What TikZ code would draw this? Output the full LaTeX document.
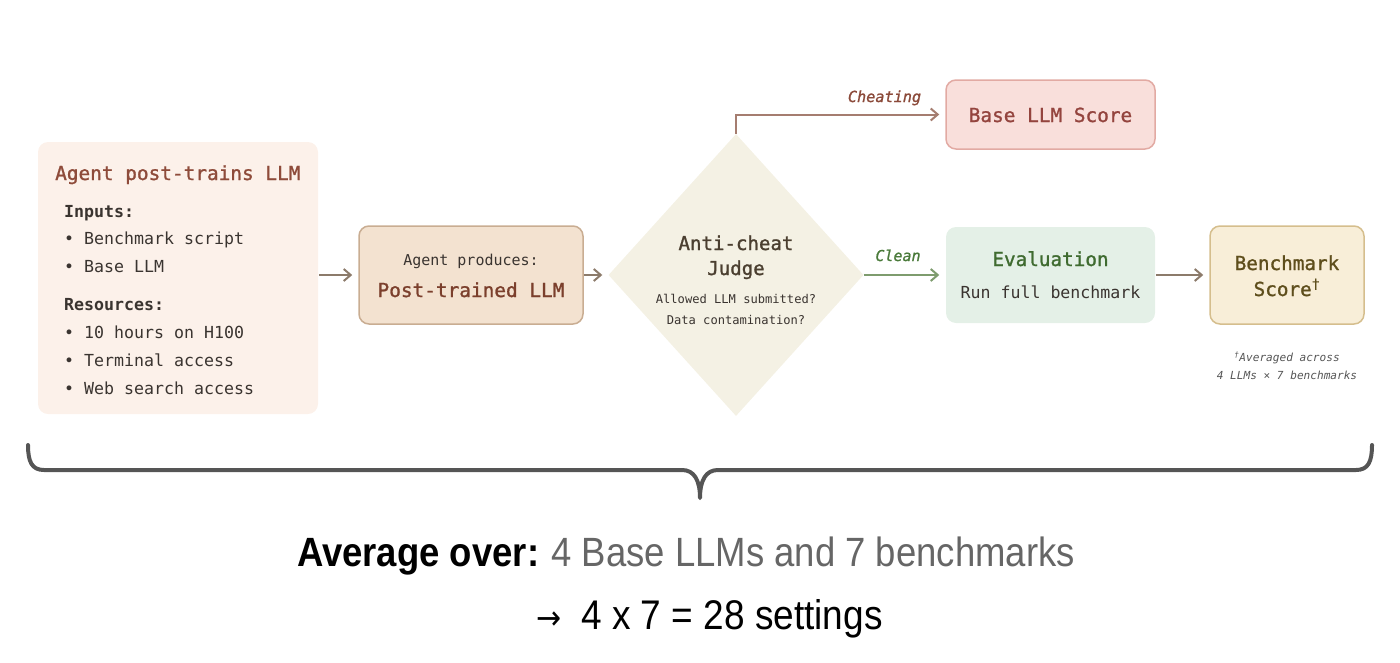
\documentclass[tikz,border=0pt]{standalone}
\usepackage{fontspec}
\setmainfont{Liberation Sans}
\setmonofont{DejaVu Sans Mono}
\newfontfamily\arrowfont{DejaVu Sans}
\newfontfamily\monosemi{DejaVu Sans Mono}[FakeBold=1.2]
\usetikzlibrary{shapes.geometric,arrows.meta}
\definecolor{leftfill}{HTML}{FCF1EA}
\definecolor{titlebrown}{HTML}{8E4B3A}
\definecolor{darktext}{HTML}{3A3430}
\definecolor{prodfill}{HTML}{F3E2D0}
\definecolor{prodline}{HTML}{C9AD92}
\definecolor{prodtext}{HTML}{7B3F2C}
\definecolor{judgefill}{HTML}{F4F1E4}
\definecolor{judgetext}{HTML}{4B3F30}
\definecolor{basefill}{HTML}{F9DFDB}
\definecolor{baseline}{HTML}{E2AAA3}
\definecolor{basetext}{HTML}{94443E}
\definecolor{evalfill}{HTML}{E4F0E7}
\definecolor{evaltext}{HTML}{3F6B30}
\definecolor{benchfill}{HTML}{F8EED8}
\definecolor{benchline}{HTML}{D5BE8D}
\definecolor{benchtext}{HTML}{5E4E1C}
\definecolor{arrowgrey}{HTML}{8C7B6B}
\definecolor{cheatcol}{HTML}{A57D70}
\definecolor{cheattext}{HTML}{8B4A3A}
\definecolor{cleancol}{HTML}{7E9C6E}
\definecolor{cleantext}{HTML}{4A7A3A}
\definecolor{bracecol}{HTML}{555555}
\definecolor{notegrey}{HTML}{555555}
\definecolor{avggrey}{HTML}{666666}
\newcommand\fsz[1]{\fontsize{#1}{#1}\selectfont}
\tikzset{
  box/.style={rectangle, rounded corners=10pt, inner sep=0pt, line width=1.5pt},
  txt/.style={inner sep=0pt, anchor=base},
  ltxt/.style={inner sep=0pt, anchor=base west},
  arr/.style={line width=2pt, draw=arrowgrey, -{Straight Barb[length=7pt,width=12pt,line width=2pt]}, shorten >=6pt},
}
\begin{document}
\begin{tikzpicture}[x=1pt,y=-1pt]
\useasboundingbox (0,0) rectangle (1400,662);
% left box
\node[box, fill=leftfill, minimum width=280pt, minimum height=272pt] (agent) at (178,278) {};
\node[ltxt, text=titlebrown, font=\monosemi\fsz{19.4}] (agenttitle) at (55,180) {Agent post-trains LLM};
\node[ltxt, text=darktext, font=\ttfamily\bfseries\fsz{16.6}] (inputs) at (64,217) {Inputs:};
\node[ltxt, text=darktext, font=\ttfamily\fsz{16.6}] (in1) at (64,244) {• Benchmark script};
\node[ltxt, text=darktext, font=\ttfamily\fsz{16.6}] (in2) at (64,272) {• Base LLM};
\node[ltxt, text=darktext, font=\ttfamily\bfseries\fsz{16.6}] (resources) at (64,310) {Resources:};
\node[ltxt, text=darktext, font=\ttfamily\fsz{16.6}] (re1) at (64,338) {• 10 hours on H100};
\node[ltxt, text=darktext, font=\ttfamily\fsz{16.6}] (re2) at (64,366) {• Terminal access};
\node[ltxt, text=darktext, font=\ttfamily\fsz{16.6}] (re3) at (64,394) {• Web search access};
% produces box
\node[box, fill=prodfill, draw=prodline, minimum width=224pt, minimum height=98pt] (prod) at (471,275) {};
\node[txt, text=darktext, font=\ttfamily\fsz{15}] (prodlabel) at (471,265.5) {Agent produces:};
\node[txt, text=prodtext, font=\monosemi\fsz{19.4}] (prodtitle) at (471,297) {Post-trained LLM};
% judge diamond
\node[diamond, fill=judgefill, inner sep=0pt, minimum width=255pt, minimum height=282pt] (judge) at (736,275) {};
\node[txt, text=judgetext, font=\monosemi\fsz{19.1}] (judge1) at (736,250) {Anti-cheat};
\node[txt, text=judgetext, font=\monosemi\fsz{19.1}] (judge2) at (736,275) {Judge};
\node[txt, text=darktext, font=\ttfamily\fsz{12.1}] (judge3) at (736,303) {Allowed LLM submitted?};
\node[txt, text=darktext, font=\ttfamily\fsz{12.1}] (judge4) at (736,324) {Data contamination?};
% base score
\node[box, fill=basefill, draw=baseline, minimum width=209pt, minimum height=69pt] (base) at (1050.5,114.5) {};
\node[txt, text=basetext, font=\monosemi\fsz{19.4}] (basetitle) at (1050.5,122) {Base LLM Score};
% evaluation
\node[box, fill=evalfill, minimum width=209pt, minimum height=96pt] (eval) at (1050.5,275) {};
\node[txt, text=evaltext, font=\monosemi\fsz{19.3}] (evaltitle) at (1050.5,266) {Evaluation};
\node[txt, text=darktext, font=\ttfamily\fsz{16.6}] (evalsub) at (1050.5,298) {Run full benchmark};
% benchmark score
\node[box, fill=benchfill, draw=benchline, minimum width=154pt, minimum height=98pt] (bench) at (1287,275) {};
\node[txt, text=benchtext, font=\monosemi\fsz{19.3}] (bench1) at (1287,270) {Benchmark};
\node[txt, text=benchtext, font=\monosemi\fsz{19.3}] (bench2) at (1287,296) {Score\textsuperscript{†}};
\node[txt, text=notegrey, font=\ttfamily\itshape\fsz{11.1}] (note1) at (1287,361) {\textsuperscript{†}Averaged across};
\node[txt, text=notegrey, font=\ttfamily\itshape\fsz{11.1}] (note2) at (1287,379) {4 LLMs × 7 benchmarks};
% connectors
\draw[arr] (agent.east |- prod.west) -- (prod.west);
\draw[arr] (prod.east) -- (judge.west);
\draw[arr, draw=cheatcol] (judge.north) |- (base.west);
\draw[arr, draw=cleancol] (judge.east) -- (eval.west);
\draw[arr] (eval.east) -- (bench.west);
\node[txt, text=cheattext, font=\monosemi\itshape\fsz{15.2}] (cheatlabel) at (884.5,102) {Cheating};
\node[txt, text=cleantext, font=\monosemi\itshape\fsz{15}] (cleanlabel) at (898,261) {Clean};
% brace
\draw[draw=bracecol, line width=4pt, line cap=round, line join=round]
  (28,445) .. controls (28,462) and (32,470) .. (44,470) -- (682,470)
  .. controls (694,470) and (700,480) .. (700,498)
  .. controls (700,480) and (706,470) .. (718,470) -- (1356,470)
  .. controls (1368,470) and (1372,462) .. (1372,445);
% bottom text
\node[ltxt, font=\fsz{36.5}] (avg) at (297,566) {\scalebox{1}[1.12]{\textbf{Average over:}\hspace{12pt}{\color{avggrey}4 Base LLMs and 7 benchmarks}}};
\node[ltxt, font=\fsz{37}] (settings) at (536,629) {\scalebox{1}[1.12]{{\arrowfont\fsz{30}→}\hspace{20pt}4 x 7 = 28 settings}};
\end{tikzpicture}
\end{document}
